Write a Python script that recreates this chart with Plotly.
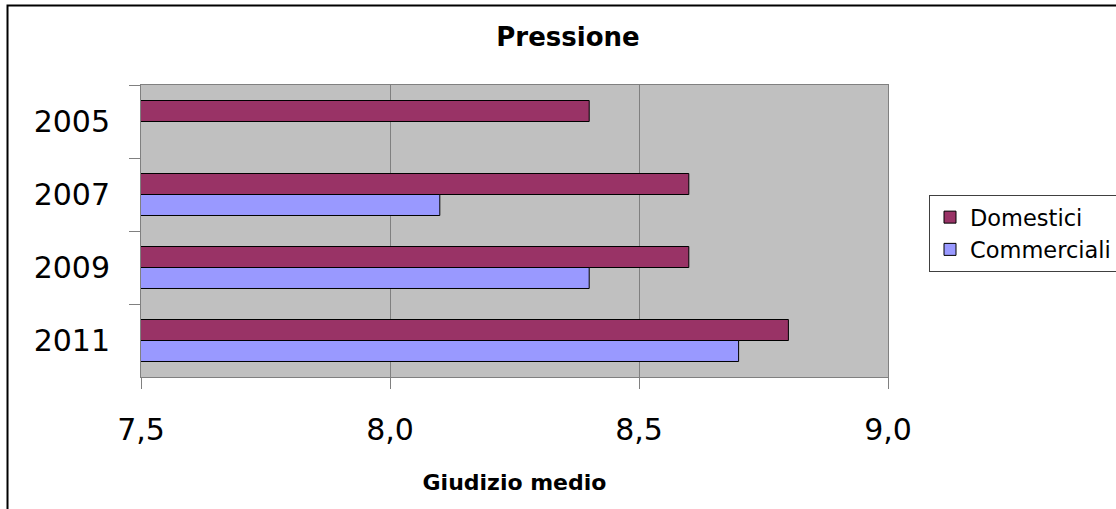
import plotly.graph_objects as go

# Data
years = ["2005", "2007", "2009", "2011"]
domestici = [8.4, 8.6, 8.6, 8.8]
commerciali = [None, 8.1, 8.4, 8.7]

FONT = "DejaVu Sans"

fig = go.Figure()

fig.add_trace(go.Bar(
    y=years, x=domestici, orientation="h", name="Domestici", legendgroup="d",
    marker=dict(color="#993366", line=dict(color="black", width=1)),
))
fig.add_trace(go.Bar(
    y=years, x=commerciali, orientation="h", name="Commerciali", legendgroup="c",
    marker=dict(color="#9999FF", line=dict(color="black", width=1)),
))

# outer chart frame (Excel style), partly cut off at right/bottom
fig.add_shape(type="rect", xref="paper", yref="paper",
              x0=-0.1787, x1=1.4, y0=-0.6, y1=1.2723,
              line=dict(color="black", width=2), fillcolor="rgba(0,0,0,0)", layer="below")

fig.update_layout(
    width=1116, height=509,
    margin=dict(l=141, r=228, t=85, b=132),
    paper_bgcolor="white",
    plot_bgcolor="#C0C0C0",
    separators=",.",
    barmode="group",
    bargap=0.425,
    bargroupgap=0,
    font=dict(family=FONT, color="black"),
    title=dict(
        text="<b>Pressione</b>",
        x=568 / 1116, xref="container", xanchor="center",
        y=1 - 37 / 509, yref="container", yanchor="middle",
        font=dict(size=26, family=FONT, color="black"),
    ),
    xaxis=dict(
        range=[7.5, 9.0], dtick=0.5, tick0=7.5, tickformat=".1f",
        showgrid=True, gridcolor="#808080", gridwidth=1,
        showline=True, linecolor="#808080", linewidth=1, mirror=True,
        ticks="outside", ticklen=11, tickcolor="#808080",
        tickfont=dict(size=30, family=FONT),
        ticklabelstandoff=15,
        zeroline=False,
        title=dict(text="<b>Giudizio medio</b>", font=dict(size=22, family=FONT), standoff=28),
    ),
    yaxis=dict(
        type="category", autorange="reversed",
        showgrid=False,
        showline=True, linecolor="#808080", linewidth=1, mirror=True,
        ticks="outside", ticklen=11, tickcolor="#808080", tickson="boundaries",
        tickfont=dict(size=30, family=FONT),
        ticklabelstandoff=24,
    ),
    legend=dict(
        xref="container", x=929 / 1116, xanchor="left",
        yref="container", y=1 - 195 / 509, yanchor="top",
        bgcolor="white", bordercolor="#404040", borderwidth=1,
        font=dict(size=22.5, family=FONT),
        traceorder="normal", tracegroupgap=4,
    ),
)

# the page body has a default 8px margin; drop it so the chart sits at the window origin
fig.write_html("out.html", config={"displayModeBar": False},
               post_script="document.body.style.margin='0px';")
